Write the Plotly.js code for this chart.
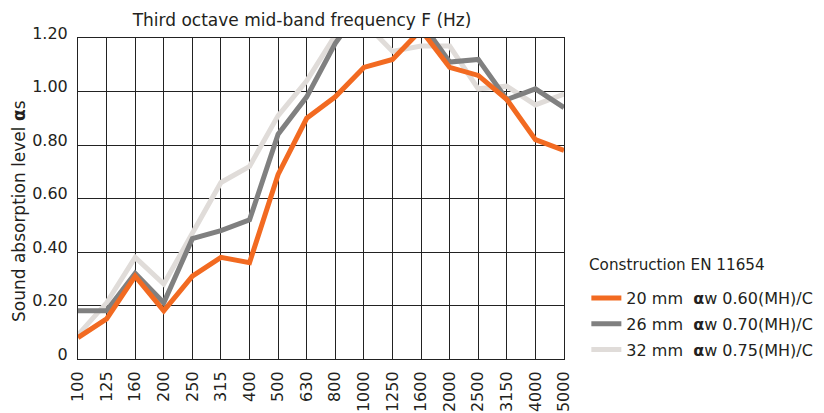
<!DOCTYPE html>
<html>
<head>
<meta charset="utf-8">
<script src="https://cdn.plot.ly/plotly-3.0.1.min.js"></script>
<style>html,body{margin:0;padding:0;background:#fff;}#chart{width:824px;height:413px;}</style>
</head>
<body>
<div id="chart"></div>
<script>
var frequencies = ["100","125","160","200","250","315","400","500","630","800","1000","1250","1600","2000","2500","3150","4000","5000"];
var mm20 = [0.08,0.15,0.31,0.18,0.31,0.38,0.36,0.69,0.90,0.98,1.09,1.12,1.23,1.09,1.06,0.97,0.82,0.78];
var mm26 = [0.18,0.18,0.32,0.21,0.45,0.48,0.52,0.84,0.98,1.18,1.33,1.30,1.26,1.11,1.12,0.97,1.01,0.94];
var mm32 = [0.09,0.21,0.38,0.28,0.47,0.66,0.72,0.91,1.04,1.21,1.26,1.15,1.17,1.17,1.01,1.02,0.95,0.99];
var yTickVals = [0,0.2,0.4,0.6,0.8,1.0,1.2];
var yTickText = ["0","0.20","0.40","0.60","0.80","1.00","1.20"];
var legendTitle = "Construction EN 11654";
var names = ["20 mm\u00A0\u00A0<b>α</b>w 0.60(MH)/C",
             "26 mm\u00A0\u00A0<b>α</b>w 0.70(MH)/C",
             "32 mm\u00A0\u00A0<b>α</b>w 0.75(MH)/C"];
var colors = ["#f26a21","#808080","#e0dcd9"];

var F = "DejaVu Sans, Arial, sans-serif";
var ink = "#231f20";

var traces = [
  {x: frequencies, y: mm32, name: names[2], legendgroup: "c", legendrank: 3, type: "scatter", mode: "lines",
   line: {color: colors[2], width: 5}},
  {x: frequencies, y: mm26, name: names[1], legendgroup: "b", legendrank: 2, type: "scatter", mode: "lines",
   line: {color: colors[1], width: 5}},
  {x: frequencies, y: mm20, name: names[0], legendgroup: "a", legendrank: 1, type: "scatter", mode: "lines",
   line: {color: colors[0], width: 5}}
];

var layout = {
  width: 824, height: 413,
  margin: {l: 78, r: 260, t: 38, b: 54, pad: 0, autoexpand: false},
  paper_bgcolor: "#fff", plot_bgcolor: "#fff",
  font: {family: F, color: ink, size: 16},
  title: {text: "Third octave mid-band frequency F (Hz)", x: 0.461, xref: "paper", xanchor: "center",
          y: 0.952, yref: "container", yanchor: "middle", font: {family: F, size: 17, color: ink}},
  xaxis: {type: "category", range: [0, 17], showgrid: true, gridcolor: "#222", gridwidth: 1,
          showline: true, linecolor: "#222", linewidth: 1, mirror: true, zeroline: false,
          automargin: false, tickangle: -90, ticks: "", ticklabelstandoff: 5,
          tickfont: {family: F, size: 16, color: ink}, fixedrange: true},
  yaxis: {range: [0, 1.2], tickvals: yTickVals, ticktext: yTickText, showgrid: true, gridcolor: "#222",
          gridwidth: 1, showline: true, linecolor: "#222", linewidth: 1, mirror: true, zeroline: false,
          automargin: false, ticks: "", ticklabelstandoff: 6, ticklabelshift: -5,
          tickfont: {family: F, size: 16, color: ink}, fixedrange: true},
  showlegend: true,
  legend: {x: 1.046, xanchor: "left", y: 0.243, yanchor: "top", traceorder: "grouped",
           tracegroupgap: 2, bgcolor: "rgba(0,0,0,0)", borderwidth: 0,
           font: {family: F, size: 16, color: ink}},
  annotations: [
    {text: "Sound absorption level <b>α</b>s", textangle: -90, xref: "paper", yref: "paper",
     x: -0.1214, y: 0.461, xanchor: "center", yanchor: "middle", showarrow: false,
     font: {family: F, size: 17, color: ink}},
    {text: legendTitle, xref: "paper", yref: "paper", x: 1.0473, y: 0.2928,
     xanchor: "left", yanchor: "middle", showarrow: false,
     font: {family: F, size: 15.2, color: ink}}
  ]
};

Plotly.newPlot("chart", traces, layout, {displayModeBar: false, staticPlot: true});
</script>
</body>
</html>
